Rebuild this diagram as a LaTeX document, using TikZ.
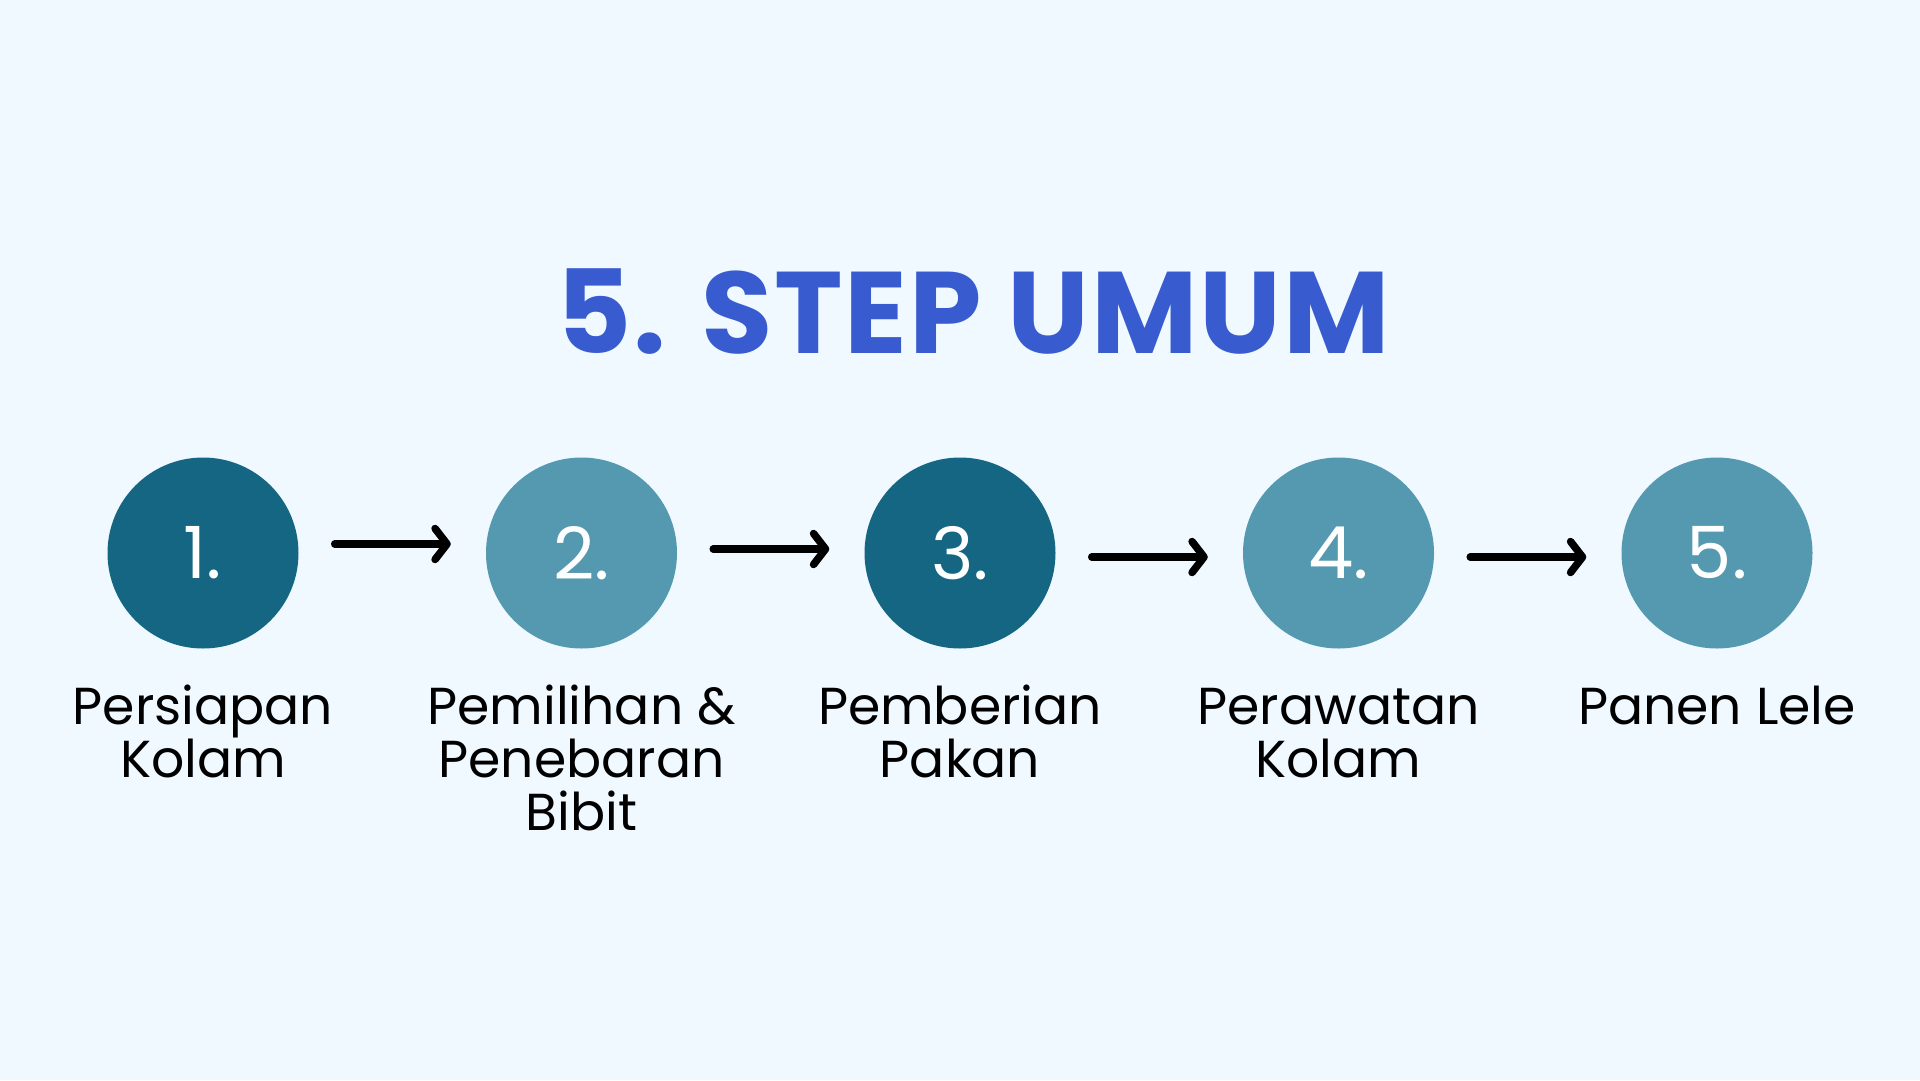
\documentclass[tikz,border=0pt]{standalone}
\usepackage{fontspec}
\setmainfont{Poppins}
\usepackage{tikz}
\usetikzlibrary{arrows.meta, positioning}
\usepackage{xcolor}
\definecolor{fundo}{RGB}{239,249,255}
\definecolor{escuro}{RGB}{21,102,130}
\definecolor{claro}{RGB}{84,153,176}
\definecolor{titulo}{RGB}{56,91,208}
\newcommand{\alto}{\rule{0pt}{45pt}}

\begin{document}
\begin{tikzpicture}[x=1pt,y=-1pt,
    passo/.style={circle,minimum size=191pt,inner sep=0pt,text=white,
      font=\fontsize{72}{72}\selectfont},
    rotulo/.style={align=center,inner sep=0pt,font=\fontsize{52}{53}\selectfont},
    seta/.style={line width=7.5pt,line cap=round,
      -{Straight Barb[round,length=12pt,width=31pt]},
      shorten <=36pt,shorten >=35pt}]

        \fill[fundo] (0,0) rectangle (1920,1080);
        \useasboundingbox (0,0) rectangle (1920,1080);

        % Titulo
        \node[font=\fontsize{116}{116}\selectfont\bfseries\addfontfeature{LetterSpace=1.5},text=titulo] (titulo) at (973,312) {5. STEP UMUM};

        % Passos
        \node[passo,fill=escuro] (p1) at (203,553) {1.};
        \node[passo,fill=claro] (p2) at (581.5,553) {2.};
        \node[passo,fill=escuro] (p3) at (960,553) {3.};
        \node[passo,fill=claro] (p4) at (1338.5,553) {4.};
        \node[passo,fill=claro] (p5) at (1717,553) {5.};

        \node[rotulo,below=31pt of p1] (r1) {\alto Persiapan\\Kolam};
        \node[rotulo,below=31pt of p2] (r2) {\alto Pemilihan \&\\Penebaran\\Bibit};
        \node[rotulo,below=31pt of p3] (r3) {\alto Pemberian\\Pakan};
        \node[rotulo,below=31pt of p4] (r4) {\alto Perawatan\\Kolam};
        \node[rotulo,below=31pt of p5] (r5) {\alto Panen Lele};

        % Setas
        \draw[seta] ([yshift=9pt]p1.east) -- ([yshift=9pt]p2.west);
        \draw[seta] ([yshift=4pt]p2.east) -- ([yshift=4pt]p3.west);
        \draw[seta] ([yshift=-4pt]p3.east) -- ([yshift=-4pt]p4.west);
        \draw[seta] ([yshift=-4pt]p4.east) -- ([yshift=-4pt]p5.west);
    \end{tikzpicture}
\end{document}
